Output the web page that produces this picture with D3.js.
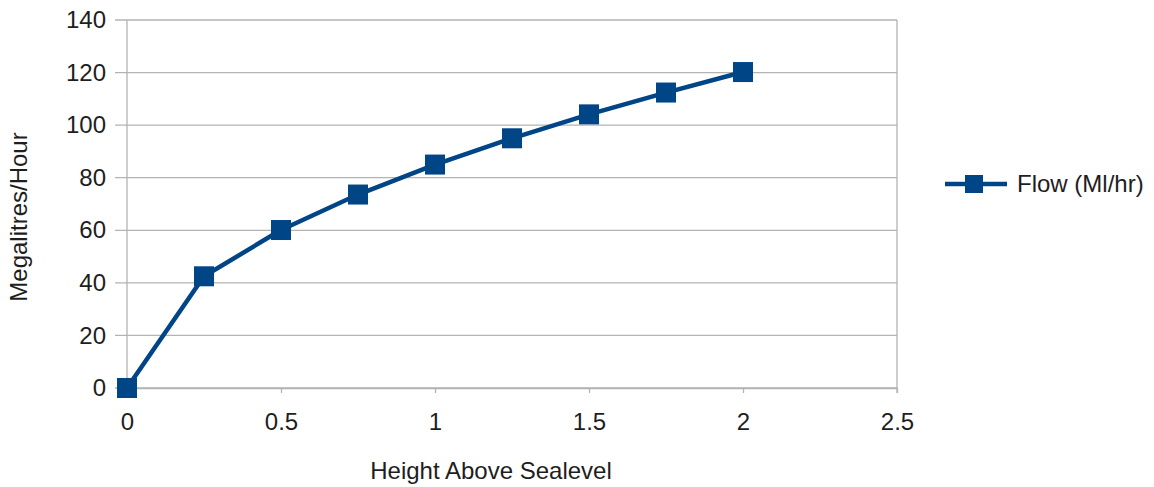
<!DOCTYPE html>
<html><head><meta charset="utf-8">
<script src="https://cdn.jsdelivr.net/npm/d3@7"></script>
<style>body{margin:0;background:#fff}svg{display:block}text{font-family:"Liberation Sans",Arial,sans-serif;fill:#1e1e1e}</style>
</head><body><svg id="c" width="1154" height="487"></svg>
<script>
const heights = [0, 0.25, 0.5, 0.75, 1, 1.25, 1.5, 1.75, 2];
const flow = [0, 42.5, 60.1, 73.6, 85, 95, 104.1, 112.4, 120.2];
const xTicks = [0, 0.5, 1, 1.5, 2, 2.5];
const yTicks = [0, 20, 40, 60, 80, 100, 120, 140];
const seriesName = "Flow (Ml/hr)";
const xTitle = "Height Above Sealevel";
const yTitle = "Megalitres/Hour";

const svg = d3.select("#c");
const color = "#004586";
const grid = "#b3b3b3";
const font = '"Liberation Sans",Arial,sans-serif';
const x = d3.scaleLinear().domain([0, 2.5]).range([127, 897]);
const y = d3.scaleLinear().domain([0, 140]).range([388, 20]);

// gridlines
svg.append("g").selectAll("line").data(yTicks).join("line")
  .attr("x1", 115).attr("x2", x(2.5)).attr("y1", d => y(d)).attr("y2", d => y(d))
  .attr("stroke", grid).attr("stroke-width", 1.3);
// frame right
svg.append("line").attr("x1", x(2.5)).attr("x2", x(2.5)).attr("y1", y(140)).attr("y2", y(0) + 5)
  .attr("stroke", grid).attr("stroke-width", 1.3);
// left axis
svg.append("line").attr("x1", x(0)).attr("x2", x(0)).attr("y1", y(140)).attr("y2", y(0))
  .attr("stroke", grid).attr("stroke-width", 1.3);

const xAxis = svg.append("g").attr("transform", `translate(0,${y(0)})`)
  .call(d3.axisBottom(x).tickValues(xTicks).tickSize(5).tickSizeOuter(0).tickFormat(d3.format("")));
xAxis.select(".domain").attr("stroke", grid).attr("stroke-width", 1.3);
xAxis.selectAll(".tick line").attr("stroke", grid).attr("stroke-width", 1.3);
xAxis.selectAll(".tick text").attr("font-size", 24).attr("y", 25).attr("dy", "0.71em")
  .style("font-family", font).attr("fill", "#1e1e1e");

const yAxis = svg.append("g").attr("transform", `translate(${x(0)},0)`)
  .call(d3.axisLeft(y).tickValues(yTicks).tickSize(0).tickFormat(d3.format("")));
yAxis.select(".domain").remove();
yAxis.selectAll(".tick text").attr("font-size", 24).attr("x", -21)
  .style("font-family", font).attr("fill", "#1e1e1e");

// line
const line = d3.line().x((d, i) => x(heights[i])).y(d => y(d));
svg.append("path").datum(flow).attr("d", line).attr("fill", "none")
  .attr("stroke", color).attr("stroke-width", 4.5).attr("stroke-linejoin", "round");
const ms = 20;
svg.append("g").selectAll("rect").data(flow).join("rect")
  .attr("x", (d, i) => x(heights[i]) - ms / 2).attr("y", d => y(d) - ms / 2)
  .attr("width", ms).attr("height", ms).attr("fill", color);

// titles
svg.append("text").attr("x", 491).attr("y", 479).attr("text-anchor", "middle")
  .attr("font-size", 24).text(xTitle);
svg.append("text").attr("transform", `translate(27,217) rotate(-90)`)
  .attr("text-anchor", "middle").attr("font-size", 24).text(yTitle);

// legend
const lg = svg.append("g").attr("transform", "translate(945,184)");
lg.append("line").attr("x1", 0).attr("x2", 62).attr("stroke", color).attr("stroke-width", 4.5);
lg.append("rect").attr("x", 20).attr("y", -9).attr("width", 18).attr("height", 18).attr("fill", color);
lg.append("text").attr("x", 72).attr("y", 0).attr("dy", "0.35em").attr("font-size", 24).text(seriesName);
</script></body></html>
